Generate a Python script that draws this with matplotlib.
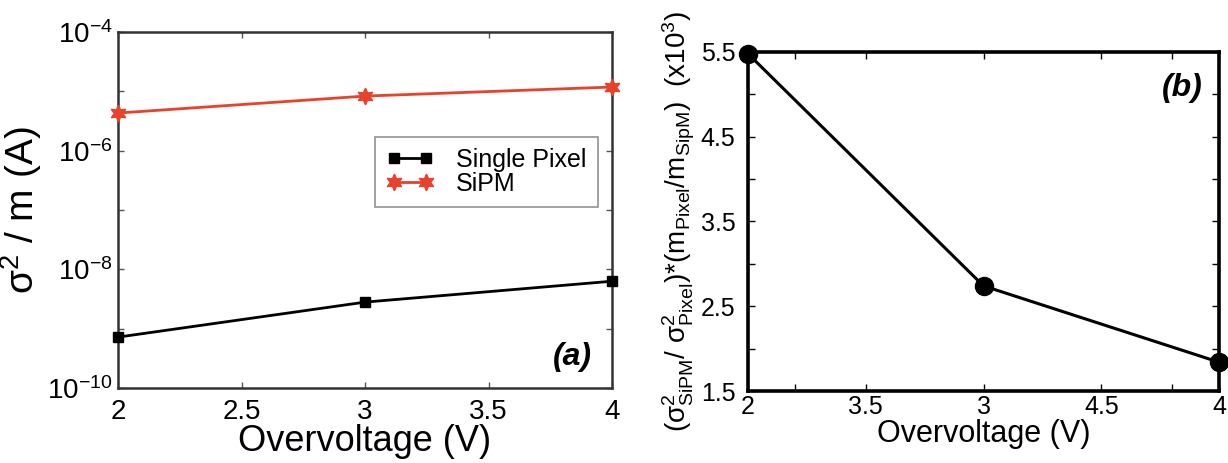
import numpy as np
import matplotlib
matplotlib.use("Agg")
import matplotlib.pyplot as plt
from matplotlib.ticker import FixedLocator

plt.rcParams['font.family'] = ['Liberation Sans', 'DejaVu Sans']
plt.rcParams['mathtext.default'] = 'regular'

## data
overvoltage = [2, 3, 4]
single_pixel = [7.2e-10, 2.8e-9, 6.3e-9]
sipm = [4.3e-6, 8.3e-6, 1.18e-5]
ratio = [5.48, 2.74, 1.84]

left_yticks = [1e-10, 1e-8, 1e-6, 1e-4]
left_ylabels = ['$10^{-10}$', '$10^{-8}$', '$10^{-6}$', '$10^{-4}$']
left_xticks = [2, 2.5, 3, 3.5, 4]
left_xlabels = ['2', '2.5', '3', '3.5', '4']
right_xticks = [2, 2.5, 3, 3.5, 4]
right_xlabels = ['2', '3.5', '3', '4.5', '4']   # labels as printed in the original
right_yticks = [1.5, 2.5, 3.5, 4.5, 5.5]

fig = plt.figure(figsize=(12.28, 4.63), dpi=100)

## panel (a)
ax1 = fig.add_axes([0.0961, 0.162, 0.4023, 0.769])
ax1.set_yscale('log')
ax1.plot(overvoltage, single_pixel, color='black', lw=2, marker='s', ms=7,
         clip_on=False, zorder=3, label='Single Pixel')
ax1.plot(overvoltage, sipm, color='#e8412c', lw=2, marker=(6, 1, 0), ms=12,
         clip_on=False, zorder=3, label='SiPM')
ax1.set_xlim(2, 4)
ax1.set_ylim(1e-10, 1e-4)
ax1.yaxis.set_major_locator(FixedLocator(left_yticks))
ax1.set_yticklabels(left_ylabels)
ax1.yaxis.set_minor_locator(FixedLocator([1e-9, 1e-7, 1e-5]))
ax1.yaxis.set_minor_formatter(plt.NullFormatter())
ax1.set_xticks(left_xticks)
ax1.set_xticklabels(left_xlabels)
ax1.tick_params(which='both', direction='in', top=True, right=True,
                length=4, width=1, color='#555555', labelsize=20)
ax1.tick_params(axis='x', pad=8)
ax1.tick_params(axis='y', pad=4)
for s in ax1.spines.values():
    s.set_linewidth(1.8)
    s.set_color('#333333')
ax1.set_xlabel('Overvoltage (V)', fontsize=26, labelpad=-1)
ax1.set_ylabel('$\\sigma^2$ / m (A)', fontsize=28, labelpad=2)
leg = ax1.legend(loc='upper left', bbox_to_anchor=(0.52, 0.705), fontsize=18,
                 frameon=True, fancybox=False, numpoints=2, handlelength=1.9,
                 labelspacing=0.0, borderpad=0.45, handletextpad=0.9,
                 borderaxespad=0)
leg.get_frame().set_edgecolor('#777777')
leg.get_frame().set_linewidth(1.2)
ax1.text(0.96, 0.087, '(a)', transform=ax1.transAxes, fontsize=23,
         fontweight='bold', fontstyle='italic', ha='right', va='center')

## panel (b)
ax2 = fig.add_axes([0.6091, 0.1555, 0.3836, 0.7322])
ax2.plot(overvoltage, ratio, color='black', lw=2.2, marker='o', ms=13,
         clip_on=False, zorder=3)
ax2.set_xlim(2, 4)
ax2.set_ylim(1.5, 5.5)
ax2.set_xticks(right_xticks)
ax2.set_xticklabels(right_xlabels)
ax2.set_xticks([2.2, 3.8], minor=True)
ax2.set_yticks(right_yticks)
ax2.set_yticklabels([str(v) for v in right_yticks])
ax2.set_yticks([2, 3, 4, 5], minor=True)
ax2.tick_params(which='both', direction='in', top=True, right=True,
                length=5, width=1, labelsize=18)
ax2.tick_params(axis='x', pad=3)
ax2.tick_params(axis='y', pad=9)
for s in ax2.spines.values():
    s.set_linewidth(2.6)
ax2.set_xlabel('Overvoltage (V)', fontsize=22, labelpad=0)
ax2.set_ylabel('($\\sigma^2_{SiPM}$/ $\\sigma^2_{Pixel}$)*(m$_{Pixel}$/m$_{SipM}$)  (x10$^3$)',
               fontsize=20, labelpad=3)
ax2.text(0.966, 0.894, '(b)', transform=ax2.transAxes, fontsize=23,
         fontweight='bold', fontstyle='italic', ha='right', va='center')

fig.savefig('out.png', dpi=100)
